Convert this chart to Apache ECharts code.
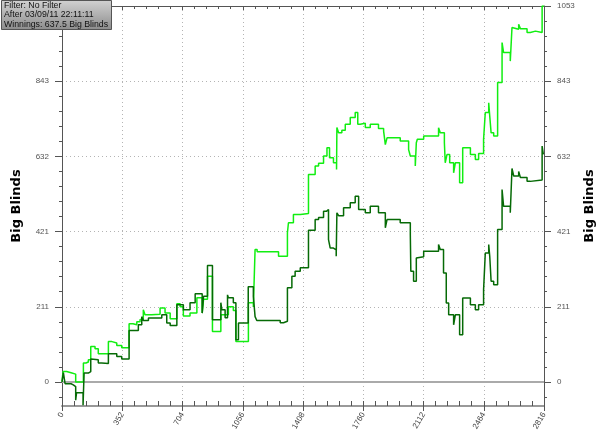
<!DOCTYPE html>
<html>
<head>
<meta charset="utf-8">
<script src="https://cdn.jsdelivr.net/npm/echarts@6/dist/echarts.min.js"></script>
<style>html,body{margin:0;padding:0;background:#fff}#c{width:600px;height:446px}</style>
</head>
<body>
<div id="c"></div>
<script>
// ---- data ----
const handsLight = [0,6,27,38,53,80,125,140,154,168,193,212,271,292,320,349,392,415,437,456,475,485,524,573,602,632,671,690,709,748,788,819,827,850,879,928,972,1001,1016,1089,1118,1128,1140,1265,1317,1323,1352,1392,1440,1479,1499,1528,1548,1563,1586,1604,1606,1616,1635,1655,1684,1713,1728,1742,1772,1801,1849,1879,1889,1899,1976,2025,2035,2064,2070,2076,2113,2132,2200,2210,2234,2239,2249,2265,2288,2298,2323,2341,2386,2415,2434,2463,2473,2493,2499,2507,2522,2545,2571,2580,2619,2629,2639,2668,2678,2717,2736,2766,2805,2816];
const bbLight = [0,29,34,26,22,0,53,56,62,99,93,79,113,109,102,96,163,160,169,175,202,188,190,207,193,177,219,211,185,193,236,193,232,296,141,188,211,200,113,222,210,371,365,352,418,446,469,472,581,605,613,633,656,628,614,595,713,698,705,722,741,755,722,725,713,722,710,703,665,684,675,651,633,605,670,680,689,689,712,698,670,614,637,614,586,614,558,656,637,623,640,680,755,782,745,698,689,839,951,923,899,993,988,1002,990,979,983,979,1053.4,1053.4];

const handsDark = [0,8,18,53,66,80,85,123,129,154,168,174,212,232,271,320,349,392,446,466,475,505,583,612,632,671,709,748,778,819,827,850,879,928,934,953,967,972,1001,1016,1031,1088,1118,1128,1138,1275,1294,1317,1343,1362,1392,1440,1479,1499,1528,1544,1557,1567,1586,1602,1606,1616,1645,1684,1713,1733,1772,1801,1849,1889,1899,1976,2035,2038,2054,2070,2076,2113,2200,2210,2229,2245,2259,2288,2298,2323,2341,2386,2415,2434,2463,2473,2493,2499,2507,2522,2545,2571,2580,2619,2629,2639,2668,2678,2717,2736,2805,2812,2816];
const bbDark = [0,26,-5,-8,-13,-51,-30,-65,25,29,64,62,53,52,79,71,64,144,160,183,172,179,188,165,158,216,202,222,247,193,240,326,174,222,202,180,244,236,222,118,165,267,240,183,172,166,170,264,296,310,320,425,455,461,478,483,399,375,370,352,474,466,488,502,520,483,474,492,474,432,455,446,413,310,282,347,351,366,385,371,305,221,188,160,188,132,235,216,202,216,258,361,385,352,282,272,427,539,492,474,598,577,590,573,562,566,661,637.5,637.5];

const xMin = 0, xMax = 2816, xInterval = 352;
const yMin = -67.4, yMax = 1053.4;
const yTickValues = [0, 210.68, 421.36, 632.04, 842.72, 1053.4];
const yTickLabels = ['0', '211', '421', '632', '843', '1053'];
const infoLines = ['Filter: No Filter', 'After 03/09/11 22:11:11', 'Winnings: 637.5 Big Blinds'];
const axisTitle = 'Big Blinds';

// minor tick positions (5 per major step)
const yAllTicks = [];
const step = yTickValues[1] / 5;
for (let v = -step; v <= yMax + 0.001; v += step) yAllTicks.push(+v.toFixed(3));

function yLabel(v) {
  for (let i = 0; i < yTickValues.length; i++) {
    if (Math.abs(v - yTickValues[i]) < 0.5) return yTickLabels[i];
  }
  return '';
}

const lightData = handsLight.map((h, i) => [h, bbLight[i]]);
const darkData = handsDark.map((h, i) => [h, bbDark[i]]);

const FONT = 'Liberation Sans';
const tickColor = '#555';

const chart = echarts.init(document.getElementById('c'), null, {renderer: 'canvas'});
chart.setOption({
  animation: false,
  backgroundColor: '#fff',
  textStyle: {fontFamily: FONT},
  grid: {left: 62, right: 56, top: 6, bottom: 40, containLabel: false},
  xAxis: [
    {
      type: 'value', min: xMin, max: xMax, interval: xInterval, position: 'bottom',
      axisLine: {onZero: false, lineStyle: {color: '#999', width: 2}},
      axisTick: {inside: true, length: 5, lineStyle: {color: tickColor}},
      minorTick: {show: true, splitNumber: 5, length: 5, lineStyle: {color: tickColor}},
      axisLabel: {rotate: 60, fontSize: 8, color: '#444', margin: 7, fontFamily: FONT, formatter: v => String(Math.round(v))},
      splitLine: {show: true, lineStyle: {color: '#b4b4b4', type: [1, 3], width: 1}}
    },
    {
      type: 'value', min: xMin, max: xMax, interval: xInterval, position: 'bottom',
      axisLine: {show: false, onZero: false},
      axisTick: {length: 5, lineStyle: {color: tickColor}},
      axisLabel: {show: false}, splitLine: {show: false}
    },
    {
      type: 'value', min: xMin, max: xMax, interval: xInterval, position: 'top',
      axisLine: {onZero: false, lineStyle: {color: tickColor}},
      axisTick: {inside: true, length: 4, lineStyle: {color: tickColor}},
      minorTick: {show: true, splitNumber: 5, length: 3, lineStyle: {color: tickColor}},
      axisLabel: {show: false}, splitLine: {show: false}
    }
  ],
  yAxis: [
    {
      type: 'value', min: yMin, max: yMax, position: 'left',
      axisLine: {show: true, onZero: false, lineStyle: {color: tickColor}},
      axisTick: {show: true, customValues: yAllTicks, length: 3, lineStyle: {color: tickColor}},
      axisLabel: {customValues: yTickValues, formatter: yLabel, fontSize: 8, color: '#555', margin: 13, fontFamily: FONT},
      splitLine: {show: false}
    },
    {
      type: 'value', min: yMin, max: yMax, position: 'right',
      axisLine: {show: true, onZero: false, lineStyle: {color: tickColor}},
      axisTick: {show: true, customValues: yAllTicks, length: 3, lineStyle: {color: tickColor}},
      axisLabel: {customValues: yTickValues, formatter: yLabel, fontSize: 8, color: '#555', margin: 13, fontFamily: FONT},
      splitLine: {show: false}
    },
    {
      type: 'value', min: yMin, max: yMax, position: 'left',
      axisLine: {show: false, onZero: false},
      axisTick: {show: true, customValues: yTickValues, length: 7, lineStyle: {color: tickColor}},
      axisLabel: {show: false},
      splitLine: {show: true, lineStyle: {color: '#b4b4b4', type: [1, 3], width: 1}}
    },
    {
      type: 'value', min: yMin, max: yMax, position: 'right',
      axisLine: {show: false, onZero: false},
      axisTick: {show: true, customValues: yTickValues, length: 7, lineStyle: {color: tickColor}},
      axisLabel: {show: false},
      splitLine: {show: false}
    }
  ],
  series: [
    {
      type: 'line', xAxisIndex: 0, yAxisIndex: 0, data: lightData, step: 'end',
      showSymbol: false, symbol: 'none', lineStyle: {color: '#11ee11', width: 1.5}, z: 3,
      markLine: {
        silent: true, symbol: ['none', 'none'], z: 1, label: {show: false},
        lineStyle: {color: '#aaa', width: 2, type: 'solid'},
        data: [{yAxis: 0}]
      }
    },
    {
      type: 'line', xAxisIndex: 0, yAxisIndex: 0, data: darkData, step: 'end',
      showSymbol: false, symbol: 'none', lineStyle: {color: '#066a06', width: 1.5}, z: 4
    }
  ],
  graphic: [
    {type: 'text', x: 17, y: 206, rotation: Math.PI / 2, z: 10,
     style: {text: axisTitle, font: 'bold 13px "DejaVu Sans"', fill: '#000', align: 'center', verticalAlign: 'middle'}},
    {type: 'text', x: 590, y: 206, rotation: Math.PI / 2, z: 10,
     style: {text: axisTitle, font: 'bold 13px "DejaVu Sans"', fill: '#000', align: 'center', verticalAlign: 'middle'}},
    {type: 'rect', z: 20, shape: {x: 1.5, y: 0.5, width: 110, height: 29},
     style: {fill: {type: 'linear', x: 0, y: 0, x2: 0, y2: 1, colorStops: [{offset: 0, color: '#d2d2d2'}, {offset: 1, color: '#8c8c8c'}]}, stroke: '#555', lineWidth: 1}},
    {type: 'text', x: 4, y: 5.5, z: 21, style: {text: infoLines[0], font: '8.75px "Liberation Sans"', fill: '#111', verticalAlign: 'middle'}},
    {type: 'text', x: 4, y: 15, z: 21, style: {text: infoLines[1], font: '8.75px "Liberation Sans"', fill: '#111', verticalAlign: 'middle'}},
    {type: 'text', x: 4, y: 24.5, z: 21, style: {text: infoLines[2], font: '8.75px "Liberation Sans"', fill: '#111', verticalAlign: 'middle'}}
  ]
});
</script>
</body>
</html>
